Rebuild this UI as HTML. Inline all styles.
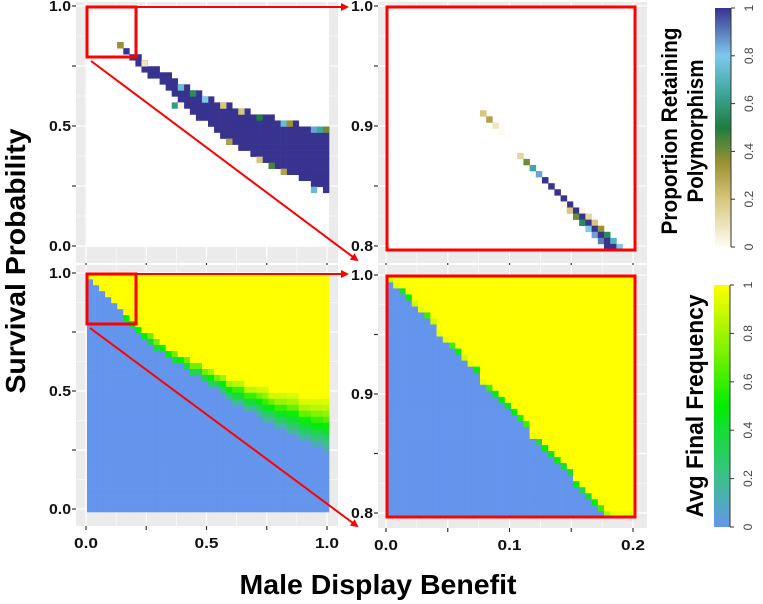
<!DOCTYPE html>
<html><head><meta charset="utf-8"><style>
html,body{margin:0;padding:0;background:#fff;}
svg{display:block;font-family:"Liberation Sans",sans-serif;}
</style></head><body>
<svg id="fig" width="763" height="604" viewBox="0 0 763 604" xmlns="http://www.w3.org/2000/svg">
<defs>
<linearGradient id="gradPoly" x1="0" y1="1" x2="0" y2="0">
<stop offset="0" stop-color="#fffdf2"/><stop offset="0.2" stop-color="#d8c67c"/><stop offset="0.35" stop-color="#9c9132"/><stop offset="0.5" stop-color="#1f7d3f"/><stop offset="0.65" stop-color="#3fa8a0"/><stop offset="0.8" stop-color="#7ec8ec"/><stop offset="1" stop-color="#37338f"/>
</linearGradient>
<linearGradient id="gradFreq" x1="0" y1="1" x2="0" y2="0">
<stop offset="0" stop-color="#6495ed"/><stop offset="0.2" stop-color="#3cbf8c"/><stop offset="0.4" stop-color="#14dd35"/><stop offset="0.5" stop-color="#00ee00"/><stop offset="0.7" stop-color="#70f000"/><stop offset="1" stop-color="#ffff00"/>
</linearGradient>
<marker id="arr" markerWidth="8" markerHeight="8" refX="6" refY="4" orient="auto" markerUnits="userSpaceOnUse"><path d="M0,0 L8,4 L0,8 z" fill="#ff0000"/></marker>
</defs>
<g id="layer"></g>
</svg>
<script>
// ---- data: top-left panel (proportion retaining polymorphism), 40x40 grid ----
const tlCols = [5,6,7,8,9,10,11,12,13,14,15,16,17,18,19,20,21,22,23,24,25,26,27,28,29,30,31,32,33,34,35,36,37,38,39];
const tlTop =  [33,32,31,31,30,29,29,28,28,27,26,26,25,25,24,24,23,23,23,22,22,22,21,21,21,21,20,20,20,20,19,19,19,19,19];
const tlBottom=[33,32,31,30,29,28,28,27,26,25,24,23,22,21,21,20,19,18,17,17,16,16,15,15,14,14,13,13,12,12,11,11,10,10,9];
const tlBandValue = 1;
const tlSpecial = [[5,33,0.35],[15,26,0.75],[17,25,0.55],[14,23,0.6],[19,24,0.8],[22,23,0.2],[25,22,0.2],[28,21,0.5],[32,20,0.75],[33,20,0.35],[37,19,0.85],[38,19,0.65],[39,19,0.4],[23,17,0.3],[28,14,0.2],[30,13,0.45],[32,12,0.3],[37,9,0.75],[15,23,0.05],[9,30,0.1]];
// ---- top-right (zoom) ----
const trCells = [[15,22,0.2],[16,21,0.3],[17,20,0.1],[18,19,0.03],[19,18,0.01],[21,15,0.15],[22,14,0.4],[23,13,0.65],[24,12,0.85],[25,11,1],[26,10,1],[27,9,1],[28,8,1],[29,7,1],[28,7,0.05],[29,6,0.2],[30,6,1],[31,6,0.05],[30,5,0.4],[31,5,1],[32,5,0.15],[31,4,0.55],[32,4,1],[33,4,0.2],[32,3,0.8],[33,3,1],[34,3,0.35],[33,2,0.85],[34,2,1],[35,2,0.55],[34,1,0.9],[35,1,1],[36,1,0.7],[35,0,1],[36,0,1],[37,0,0.8]];
// ---- bottom-left (avg final frequency) ----
const blYellowLow = [39,38,37,36,35,34,33,32,31,30,30,29,28,27,27,26,26,25,25,24,24,23,23,22,22,22,21,21,21,21,20,20,20,20,20,19,19,19,19,19];
const blBlueTop   = [38,37,36,35,34,33,31,30,29,28,27,26,26,25,24,24,23,22,22,21,20,20,19,18,17,17,16,16,15,14,14,13,13,12,12,11,11,10,10,9];
const bandProfiles = {1:[0.5],2:[0.7,0.35],3:[0.8,0.5,0.25],4:[0.85,0.6,0.4,0.2],5:[0.9,0.7,0.5,0.3,0.15],6:[0.9,0.78,0.6,0.45,0.3,0.15],7:[0.92,0.82,0.68,0.52,0.4,0.28,0.15],8:[0.92,0.85,0.74,0.6,0.48,0.36,0.24,0.12],9:[0.93,0.86,0.77,0.66,0.52,0.42,0.3,0.2,0.12]};
// ---- bottom-right (zoom) ----
const brBlueTop = [38,37,36,35,34,33,32,31,29,28,27,26,25,24,23,21,20,19,18,17,16,15,14,12,11,10,9,8,7,6,4,3,2,1,0,-1,-1,-1,-1,-1];
const brTrans   = [0.9,0.95,0.4,0.5,0.9,0.95,0.6,0.9,0.95,0.95,0.6,0.5,0.9,0.95,0.5,0.95,0.6,0.5,0.5,0.45,0.5,0.55,0.6,0.95,0.3,0.5,0.45,0.5,0.4,0.4,0.5,0.35,0.4,0.5,0.6,0.8,0.95,0.95,0.95,0.95];
// ---- ticks ----
const leftTicks = ["1.0","0.5","0.0"];
const rightTicks = ["1.0","0.9","0.8"];
const leftXTicks = ["0.0","0.5","1.0"];
const rightXTicks = ["0.0","0.1","0.2"];
const cbTicks = ["0","0.2","0.4","0.6","0.8","1"];

const NS="http://www.w3.org/2000/svg";
const L=document.getElementById('layer');
function mk(tag,attrs,parent){const e=document.createElementNS(NS,tag);for(const k in attrs)e.setAttribute(k,attrs[k]);(parent||L).appendChild(e);return e;}
function lerp(a,b,t){return Math.round(a+(b-a)*t);}
function hex(h){return [parseInt(h.slice(1,3),16),parseInt(h.slice(3,5),16),parseInt(h.slice(5,7),16)];}
function scale(stops){return v=>{for(let i=1;i<stops.length;i++){if(v<=stops[i][0]){const t=(v-stops[i-1][0])/(stops[i][0]-stops[i-1][0]);const a=hex(stops[i-1][1]),b=hex(stops[i][1]);return `rgb(${lerp(a[0],b[0],t)},${lerp(a[1],b[1],t)},${lerp(a[2],b[2],t)})`;}}return stops[stops.length-1][1];};}
const polyColor=scale([[0,"#ffffff"],[0.05,"#fbf6e4"],[0.2,"#d8c67c"],[0.35,"#9c9132"],[0.5,"#1f7d3f"],[0.65,"#3fa8a0"],[0.8,"#7ec8ec"],[1,"#37338f"]]);
const freqColor=scale([[0,"#6495ed"],[0.2,"#3cbf8c"],[0.4,"#14dd35"],[0.5,"#00ee00"],[0.7,"#70f000"],[1,"#ffff00"]]);

// panel geometry (x0..y1: axis mapping; t*: tile extent)
const P={
 tl:{bg:[76,2,262,261],x0:86,x1:327,y0:246,y1:6,xl:0,xh:1,yl:0,yh:1,tx0:87,tx1:329,ty0:247,ty1:6},
 tr:{bg:[378,2,269,261],x0:386,x1:633,y0:246,y1:6,xl:0,xh:0.2,yl:0.8,yh:1,tx0:387,tx1:635,ty0:250,ty1:7},
 bl:{bg:[76,265,262,261],x0:86,x1:327,y0:509,y1:273,xl:0,xh:1,yl:0,yh:1,tx0:87,tx1:329,ty0:512,ty1:273},
 br:{bg:[378,265,269,263],x0:386,x1:633,y0:513,y1:275,xl:0,xh:0.2,yl:0.8,yh:1,tx0:387,tx1:635,ty0:517,ty1:276}
};
function xs(p,v){return p.x0+(v-p.xl)/(p.xh-p.xl)*(p.x1-p.x0);}
function ys(p,v){return p.y0-(v-p.yl)/(p.yh-p.yl)*(p.y0-p.y1);}
function cell(p,c,r,fill,g){
 const cw=(p.tx1-p.tx0)/40, ch=(p.ty0-p.ty1)/40;
 const x=p.tx0+c*cw, y=p.ty0-(r+1)*ch;
 const e=mk('rect',{x:x.toFixed(2),y:y.toFixed(2),width:(cw+0.3).toFixed(2),height:(ch+0.3).toFixed(2),fill:fill},g);
 
 
}
function panel(key,name,yt,xt,showX){
 const p=P[key];
 const g=mk('g',{});
 
 
 const b=p.bg;
 const bg=mk('rect',{x:b[0],y:b[1],width:b[2],height:b[3],fill:'#ebebeb'},g);
 
 
 for(let i=0;i<=8;i++){
  const gx=p.x0+i*(p.x1-p.x0)/8; const gy=p.y0-i*(p.y0-p.y1)/8;
  mk('line',{x1:gx,x2:gx,y1:b[1],y2:b[1]+b[3],stroke:'#fff','stroke-width':i%2?0.6:1.2},g);
  mk('line',{x1:b[0],x2:b[0]+b[2],y1:gy,y2:gy,stroke:'#fff','stroke-width':i%2?0.6:1.2},g);
 }
 for(let i=0;i<5;i++){
  const v=p.yh-i*(p.yh-p.yl)/4; const y=ys(p,v);
  mk('line',{x1:b[0]-4,x2:b[0],y1:y,y2:y,stroke:'#333','stroke-width':1.2},g);
  if(i%2===0){const t=mk('text',{x:b[0]-5,y:y+5,'text-anchor':'end','font-size':15,'font-weight':'bold',fill:'#111',textLength:22,lengthAdjust:'spacingAndGlyphs'},g);t.textContent=yt[i/2];
   }
 }
 for(let i=0;i<5;i++){
  const v=p.xl+i*(p.xh-p.xl)/4; const x=xs(p,v);
  mk('line',{x1:x,x2:x,y1:b[1]+b[3],y2:b[1]+b[3]+4,stroke:'#333','stroke-width':1.2},g);
  if(showX&&i%2===0){const t=mk('text',{x:x,y:b[1]+b[3]+22,'text-anchor':'middle','font-size':15,'font-weight':'bold',fill:'#111',textLength:24,lengthAdjust:'spacingAndGlyphs'},g);t.textContent=xt[i/2];
   }
 }
 return g;
}
let g=panel('tl','panel-polymorphism-full',leftTicks,leftXTicks,false);
mk('rect',{x:P.tl.tx0,y:P.tl.ty1,width:P.tl.tx1-P.tl.tx0,height:P.tl.ty0-P.tl.ty1,fill:polyColor(0)},g);
tlCols.forEach((c,i)=>{for(let r=tlBottom[i];r<=tlTop[i];r++)cell(P.tl,c,r,polyColor(tlBandValue),g);});
tlSpecial.forEach(s=>cell(P.tl,s[0],s[1],polyColor(s[2]),g));
g=panel('tr','panel-polymorphism-zoom',rightTicks,rightXTicks,false);
mk('rect',{x:P.tr.tx0,y:P.tr.ty1,width:P.tr.tx1-P.tr.tx0,height:P.tr.ty0-P.tr.ty1,fill:polyColor(0)},g);
trCells.forEach(s=>cell(P.tr,s[0],s[1],polyColor(s[2]),g));
g=panel('bl','panel-frequency-full',leftTicks,leftXTicks,true);
for(let c=0;c<40;c++){
 const n=blYellowLow[c]-blBlueTop[c]-1; const prof=bandProfiles[n]||[];
 for(let r=0;r<40;r++){
  let v; if(r>=blYellowLow[c])v=1; else if(r<=blBlueTop[c])v=0; else v=prof[blYellowLow[c]-1-r];
  cell(P.bl,c,r,freqColor(v),g);
 }
}
g=panel('br','panel-frequency-zoom',rightTicks,rightXTicks,true);
for(let c=0;c<40;c++){
 for(let r=0;r<40;r++){
  let v; if(r<=brBlueTop[c])v=0; else if(r===brBlueTop[c]+1)v=brTrans[c]; else v=1;
  cell(P.br,c,r,freqColor(v),g);
 }
}
function redRect(x,y,w,h,name){const e=mk('rect',{x:x,y:y,width:w,height:h,fill:'none',stroke:'#ff0000','stroke-width':3});}
function redArrow(x1,y1,x2,y2,name){const e=mk('line',{x1:x1,y1:y1,x2:x2,y2:y2,stroke:'#ff0000','stroke-width':2,'marker-end':'url(#arr)'});}
redRect(87,7,49,50,'zoom-box-top');
redRect(387,7,248,243,'zoom-frame-top');
redArrow(136,7,347,7,'zoom-arrow-top-horizontal');
redArrow(91,61,357,260,'zoom-arrow-top-diagonal');
redRect(87,274,49,50,'zoom-box-bottom');
redRect(387,276,248,241,'zoom-frame-bottom');
redArrow(136,274,347,274,'zoom-arrow-bottom-horizontal');
redArrow(90,328,357,526,'zoom-arrow-bottom-diagonal');
function colorbar(x,y0,y1,grad,name){
 const gg=mk('g',{});
 mk('rect',{x:x,y:y0,width:16,height:y1-y0,fill:`url(#${grad})`},gg);
 cbTicks.forEach((t,i)=>{const y=y1-i*(y1-y0)/5;
  mk('line',{x1:x+16,x2:x+20,y1:y,y2:y,stroke:'#333','stroke-width':1},gg);
  const tx=mk('text',{x:0,y:0,transform:`translate(${x+38},${y}) rotate(-90)`,'text-anchor':'middle','font-size':12,fill:'#444'},gg);tx.textContent=t;
  });
 mk('line',{x1:x+16,x2:x+16,y1:y0,y2:y1,stroke:'#333','stroke-width':1},gg);
}
colorbar(715,8,247,'gradPoly','colorbar-polymorphism');
colorbar(714,285,527,'gradFreq','colorbar-frequency');
function rtext(x,y,s,size,len,name){const t=mk('text',{x:0,y:0,transform:`translate(${x},${y}) rotate(-90)`,'text-anchor':'middle','font-size':size,'font-weight':'bold',fill:'#000',textLength:len,lengthAdjust:'spacingAndGlyphs'});t.textContent=s;}
rtext(677,131,'Proportion Retaining',22,207,'colorbar-title-line1');
rtext(703,131,'Polymorphism',22,143,'colorbar-title-line2');
rtext(703,406,'Avg Final Frequency',24,223,'colorbar-title-frequency');
rtext(25,261,'Survival Probability',28,265,'y-axis-title');
const xt=mk('text',{x:378,y:594,'text-anchor':'middle','font-size':28,'font-weight':'bold',fill:'#000',textLength:277,lengthAdjust:'spacingAndGlyphs'});
xt.textContent='Male Display Benefit';


</script>
</body></html>
